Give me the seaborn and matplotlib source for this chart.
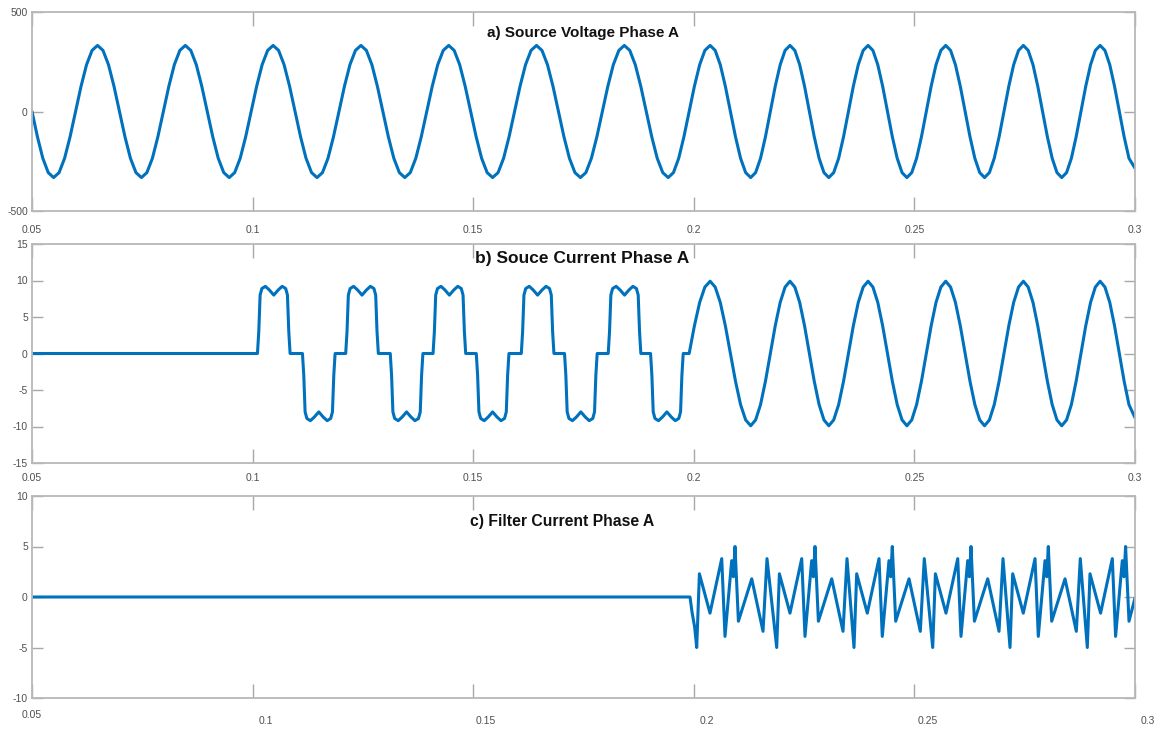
import numpy as np
import pandas as pd
import seaborn as sns
import matplotlib.pyplot as plt
from matplotlib import font_manager
from matplotlib.transforms import ScaledTranslation

# a) source voltage, phase A (V), up to 0.194 s: trough/peak every ~0.00995 s, ~332 V peak
volt_t_early = [0.05000, 0.05123, 0.05245, 0.05368,
                0.05490, 0.05614, 0.05739, 0.05863, 0.05988, 0.06112, 0.06236, 0.06361,
                0.06485, 0.06609, 0.06734, 0.06858, 0.06983, 0.07107, 0.07231, 0.07356,
                0.07480, 0.07604, 0.07729, 0.07853, 0.07978, 0.08102, 0.08226, 0.08351,
                0.08475, 0.08599, 0.08724, 0.08848, 0.08973, 0.09097, 0.09221, 0.09346,
                0.09470, 0.09594, 0.09719, 0.09843, 0.09968, 0.10092, 0.10216, 0.10341,
                0.10465, 0.10589, 0.10714, 0.10838, 0.10963, 0.11087, 0.11211, 0.11336,
                0.11460, 0.11584, 0.11709, 0.11833, 0.11958, 0.12082, 0.12206, 0.12331,
                0.12455, 0.12579, 0.12704, 0.12828, 0.12953, 0.13077, 0.13201, 0.13326,
                0.13450, 0.13574, 0.13699, 0.13823, 0.13948, 0.14072, 0.14196, 0.14321,
                0.14445, 0.14569, 0.14694, 0.14818, 0.14943, 0.15067, 0.15191, 0.15316,
                0.15440, 0.15564, 0.15689, 0.15813, 0.15938, 0.16062, 0.16186, 0.16311,
                0.16435, 0.16559, 0.16684, 0.16808, 0.16933, 0.17057, 0.17181, 0.17306,
                0.17430, 0.17554, 0.17679, 0.17803, 0.17928, 0.18052, 0.18176, 0.18301,
                0.18425, 0.18549, 0.18674, 0.18798, 0.18923, 0.19047, 0.19171, 0.19296]
volt_v_early = [0, -127, -235, -307,
                -332, -307, -235, -127, 0, 127, 235, 307,
                332, 307, 235, 127, 0, -127, -235, -307,
                -332, -307, -235, -127, 0, 127, 235, 307,
                332, 307, 235, 127, 0, -127, -235, -307,
                -332, -307, -235, -127, 0, 127, 235, 307,
                332, 307, 235, 127, 0, -127, -235, -307,
                -332, -307, -235, -127, 0, 127, 235, 307,
                332, 307, 235, 127, 0, -127, -235, -307,
                -332, -307, -235, -127, 0, 127, 235, 307,
                332, 307, 235, 127, 0, -127, -235, -307,
                -332, -307, -235, -127, 0, 127, 235, 307,
                332, 307, 235, 127, 0, -127, -235, -307,
                -332, -307, -235, -127, 0, 127, 235, 307,
                332, 307, 235, 127, 0, -127, -235, -307]

# sample times after 0.194 s, where the trace's half-period shrinks to ~0.0088 s
late_t = [0.19420, 0.19539, 0.19658, 0.19776, 0.19895, 0.20014, 0.20133, 0.20251,
          0.20370, 0.20485, 0.20600, 0.20715, 0.20830, 0.20945, 0.21060, 0.21175,
          0.21290, 0.21401, 0.21513, 0.21624, 0.21735, 0.21846, 0.21958, 0.22069,
          0.22180, 0.22290, 0.22400, 0.22510, 0.22620, 0.22730, 0.22840, 0.22950,
          0.23060, 0.23171, 0.23283, 0.23394, 0.23505, 0.23616, 0.23728, 0.23839,
          0.23950, 0.24060, 0.24170, 0.24280, 0.24390, 0.24500, 0.24610, 0.24720,
          0.24830, 0.24940, 0.25050, 0.25160, 0.25270, 0.25380, 0.25490, 0.25600,
          0.25710, 0.25820, 0.25930, 0.26040, 0.26150, 0.26260, 0.26370, 0.26480,
          0.26590, 0.26700, 0.26810, 0.26920, 0.27030, 0.27140, 0.27250, 0.27360,
          0.27470, 0.27579, 0.27688, 0.27796, 0.27905, 0.28014, 0.28123, 0.28231,
          0.28340, 0.28449, 0.28558, 0.28666, 0.28775, 0.28884, 0.28993, 0.29101,
          0.29210, 0.29319, 0.29428, 0.29536, 0.29645, 0.29754, 0.29863,
          0.30000]
volt_v_late = [-332, -307, -235, -127, 0, 127, 235, 307,
               332, 307, 235, 127, 0, -127, -235, -307,
               -332, -307, -235, -127, 0, 127, 235, 307,
               332, 307, 235, 127, 0, -127, -235, -307,
               -332, -307, -235, -127, 0, 127, 235, 307,
               332, 307, 235, 127, 0, -127, -235, -307,
               -332, -307, -235, -127, 0, 127, 235, 307,
               332, 307, 235, 127, 0, -127, -235, -307,
               -332, -307, -235, -127, 0, 127, 235, 307,
               332, 307, 235, 127, 0, -127, -235, -307,
               -332, -307, -235, -127, 0, 127, 235, 307,
               332, 307, 235, 127, 0, -127, -235,
               -285]

# b) source current, phase A (A): quasi-square pulses before the filter starts
src_t_pulses = [0.0500,
                0.1011, 0.1014, 0.1017, 0.1021, 0.1029, 0.1038, 0.1048, 0.1058, 0.1067, 0.1075, 0.1079, 0.1082, 0.1085,
                0.1113, 0.1116, 0.1119, 0.1123, 0.1131, 0.1140, 0.1150, 0.1160, 0.1169, 0.1177, 0.1181, 0.1184, 0.1187,
                0.1211, 0.1214, 0.1217, 0.1221, 0.1229, 0.1238, 0.1248, 0.1258, 0.1267, 0.1275, 0.1279, 0.1282, 0.1285,
                0.1312, 0.1315, 0.1318, 0.1322, 0.1330, 0.1339, 0.1349, 0.1359, 0.1368, 0.1376, 0.1380, 0.1383, 0.1386,
                0.1409, 0.1412, 0.1415, 0.1419, 0.1427, 0.1436, 0.1446, 0.1456, 0.1465, 0.1473, 0.1477, 0.1480, 0.1483,
                0.1507, 0.1510, 0.1513, 0.1517, 0.1525, 0.1534, 0.1544, 0.1554, 0.1563, 0.1571, 0.1575, 0.1578, 0.1581,
                0.1609, 0.1612, 0.1615, 0.1619, 0.1627, 0.1636, 0.1646, 0.1656, 0.1665, 0.1673, 0.1677, 0.1680, 0.1683,
                0.1707, 0.1710, 0.1713, 0.1717, 0.1725, 0.1734, 0.1744, 0.1754, 0.1763, 0.1771, 0.1775, 0.1778, 0.1781,
                0.1806, 0.1809, 0.1812, 0.1816, 0.1824, 0.1833, 0.1843, 0.1853, 0.1862, 0.1870, 0.1874, 0.1877, 0.1880,
                0.1902, 0.1905, 0.1908, 0.1912, 0.1920, 0.1929, 0.1939, 0.1949, 0.1958, 0.1966, 0.1970, 0.1973, 0.1976]
src_i_pulses = [0,
                0, 3.0, 8.0, 8.9, 9.2, 8.7, 8.0, 8.7, 9.2, 8.9, 8.0, 3.0, 0,
                0, -3.0, -8.0, -8.9, -9.2, -8.7, -8.0, -8.7, -9.2, -8.9, -8.0, -3.0, 0,
                0, 3.0, 8.0, 8.9, 9.2, 8.7, 8.0, 8.7, 9.2, 8.9, 8.0, 3.0, 0,
                0, -3.0, -8.0, -8.9, -9.2, -8.7, -8.0, -8.7, -9.2, -8.9, -8.0, -3.0, 0,
                0, 3.0, 8.0, 8.9, 9.2, 8.7, 8.0, 8.7, 9.2, 8.9, 8.0, 3.0, 0,
                0, -3.0, -8.0, -8.9, -9.2, -8.7, -8.0, -8.7, -9.2, -8.9, -8.0, -3.0, 0,
                0, 3.0, 8.0, 8.9, 9.2, 8.7, 8.0, 8.7, 9.2, 8.9, 8.0, 3.0, 0,
                0, -3.0, -8.0, -8.9, -9.2, -8.7, -8.0, -8.7, -9.2, -8.9, -8.0, -3.0, 0,
                0, 3.0, 8.0, 8.9, 9.2, 8.7, 8.0, 8.7, 9.2, 8.9, 8.0, 3.0, 0,
                0, -3.0, -8.0, -8.9, -9.2, -8.7, -8.0, -8.7, -9.2, -8.9, -8.0, -3.0, 0]
# ...and sinusoidal (~9.9 A peak) once compensated, sampled at late_t[4:]
src_i_late = [0, 3.8, 7.0, 9.1,
              9.9, 9.1, 7.0, 3.8, 0, -3.8, -7.0, -9.1,
              -9.9, -9.1, -7.0, -3.8, 0, 3.8, 7.0, 9.1,
              9.9, 9.1, 7.0, 3.8, 0, -3.8, -7.0, -9.1,
              -9.9, -9.1, -7.0, -3.8, 0, 3.8, 7.0, 9.1,
              9.9, 9.1, 7.0, 3.8, 0, -3.8, -7.0, -9.1,
              -9.9, -9.1, -7.0, -3.8, 0, 3.8, 7.0, 9.1,
              9.9, 9.1, 7.0, 3.8, 0, -3.8, -7.0, -9.1,
              -9.9, -9.1, -7.0, -3.8, 0, 3.8, 7.0, 9.1,
              9.9, 9.1, 7.0, 3.8, 0, -3.8, -7.0, -9.1,
              -9.9, -9.1, -7.0, -3.8, 0, 3.8, 7.0, 9.1,
              9.9, 9.1, 7.0, 3.8, 0, -3.8, -7.0,
              -8.8]

# c) active filter current, phase A (A): zero until the filter switches in at ~0.199 s
filt_t = [0.05000, 0.19914, 0.19960, 0.20020,
          0.20066, 0.20127, 0.20367, 0.20633, 0.20707, 0.20859, 0.20898, 0.20934, 0.21011, 0.21313, 0.21569, 0.21659,
          0.21879, 0.21940, 0.22180, 0.22446, 0.22520, 0.22672, 0.22711, 0.22747, 0.22824, 0.23126, 0.23382, 0.23472,
          0.23631, 0.23692, 0.23932, 0.24198, 0.24272, 0.24424, 0.24463, 0.24499, 0.24576, 0.24878, 0.25134, 0.25224,
          0.25415, 0.25476, 0.25716, 0.25982, 0.26056, 0.26208, 0.26247, 0.26283, 0.26360, 0.26662, 0.26918, 0.27008,
          0.27167, 0.27228, 0.27468, 0.27734, 0.27808, 0.27960, 0.27999, 0.28035, 0.28112, 0.28414, 0.28670, 0.28760,
          0.28919, 0.28980, 0.29220, 0.29486, 0.29560, 0.29712, 0.29751, 0.29787, 0.29864, 0.30000]
filt_i = [0, 0, -1.5, -3.0,
          -5.0, 2.3, -1.6, 3.8, -3.9, 3.6, 2.0, 5.0, -2.4, 1.8, -3.4, 3.8,
          -5.0, 2.3, -1.6, 3.8, -3.9, 3.6, 2.0, 5.0, -2.4, 1.8, -3.4, 3.8,
          -5.0, 2.3, -1.6, 3.8, -3.9, 3.6, 2.0, 5.0, -2.4, 1.8, -3.4, 3.8,
          -5.0, 2.3, -1.6, 3.8, -3.9, 3.6, 2.0, 5.0, -2.4, 1.8, -3.4, 3.8,
          -5.0, 2.3, -1.6, 3.8, -3.9, 3.6, 2.0, 5.0, -2.4, 1.8, -3.4, 3.8,
          -5.0, 2.3, -1.6, 3.8, -3.9, 3.6, 2.0, 5.0, -2.4, -0.1]

x_ticks = [0.05, 0.1, 0.15, 0.2, 0.25, 0.3]
x_labels = ["0.05", "0.1", "0.15", "0.2", "0.25", "0.3"]
volt_ticks = [-500, 0, 500]
src_ticks = [-15, -10, -5, 0, 5, 10, 15]
filt_ticks = [-10, -5, 0, 5, 10]
titles = ["a) Source Voltage Phase A", "b) Souce Current Phase A", "c) Filter Current Phase A"]


def pick_font():
    names = {f.name for f in font_manager.fontManager.ttflist}
    fam = [n for n in ["Liberation Sans Narrow", "Liberation Sans"] if n in names]
    return fam + ["DejaVu Sans"]


def style_axes(ax, yticks, ylim, xpad):
    ax.set_xlim(0.05, 0.3)
    ax.set_ylim(*ylim)
    ax.set_xticks(x_ticks)
    ax.set_xticklabels(x_labels)
    ax.set_yticks(yticks)
    ax.set_yticklabels([str(v) for v in yticks])
    ax.set_xlabel("")
    ax.set_ylabel("")
    for sp in ax.spines.values():
        sp.set_visible(True)
        sp.set_color("#b8b8b8")
        sp.set_linewidth(1.3)
    ax.tick_params(axis="x", direction="in", length=10, width=1.0, color="#a8a8a8",
                   top=True, bottom=True, labelsize=7.5, labelcolor="#505050", pad=xpad)
    ax.tick_params(axis="y", direction="in", length=8, width=1.0, color="#a8a8a8",
                   left=True, right=True, labelsize=7.5, labelcolor="#505050", pad=3)


sns.set_theme(style="white")
plt.rcParams["font.family"] = pick_font()

fig = plt.figure(figsize=(11.67, 7.32), dpi=100)
W, H = 1167.0, 732.0
# axes boxes in pixels: (left, top, right, bottom)
boxes = [(32, 12, 1135, 211), (32, 244, 1135, 463), (32, 496, 1135, 698)]
series = [(volt_t_early + late_t, volt_v_early + volt_v_late),
          (src_t_pulses + late_t[4:], src_i_pulses + src_i_late),
          (filt_t, filt_i)]
yticks = [volt_ticks, src_ticks, filt_ticks]
ylims = [(-500, 500), (-15, 15), (-10, 10)]
title_pos = [(0.4995, 0.894), (0.499, 0.934), (0.4805, 0.876)]
title_size = [11, 12.5, 11.3]
x_pads = [10, 7, 9]

line_color = "#0072BD"
for k in range(3):
    l, t, r, b = boxes[k]
    ax = fig.add_axes([l / W, 1 - b / H, (r - l) / W, (b - t) / H])
    df = pd.DataFrame({"t": series[k][0], "y": series[k][1]})
    sns.lineplot(data=df, x="t", y="y", ax=ax, color=line_color, linewidth=2.2,
                 estimator=None, sort=False)
    style_axes(ax, yticks[k], ylims[k], x_pads[k])
    ax.text(title_pos[k][0], title_pos[k][1], titles[k], transform=ax.transAxes,
            ha="center", va="center", fontsize=title_size[k], fontweight="bold",
            color="#111111")
    if k == 2:
        # the lower tick labels sit a little right of (and below) their ticks in the original
        shift = ScaledTranslation(13 / 100, -5 / 100, fig.dpi_scale_trans)
        for lab in ax.get_xticklabels()[1:]:
            lab.set_transform(lab.get_transform() + shift)

fig.savefig("out.png", dpi=100, facecolor="white")
